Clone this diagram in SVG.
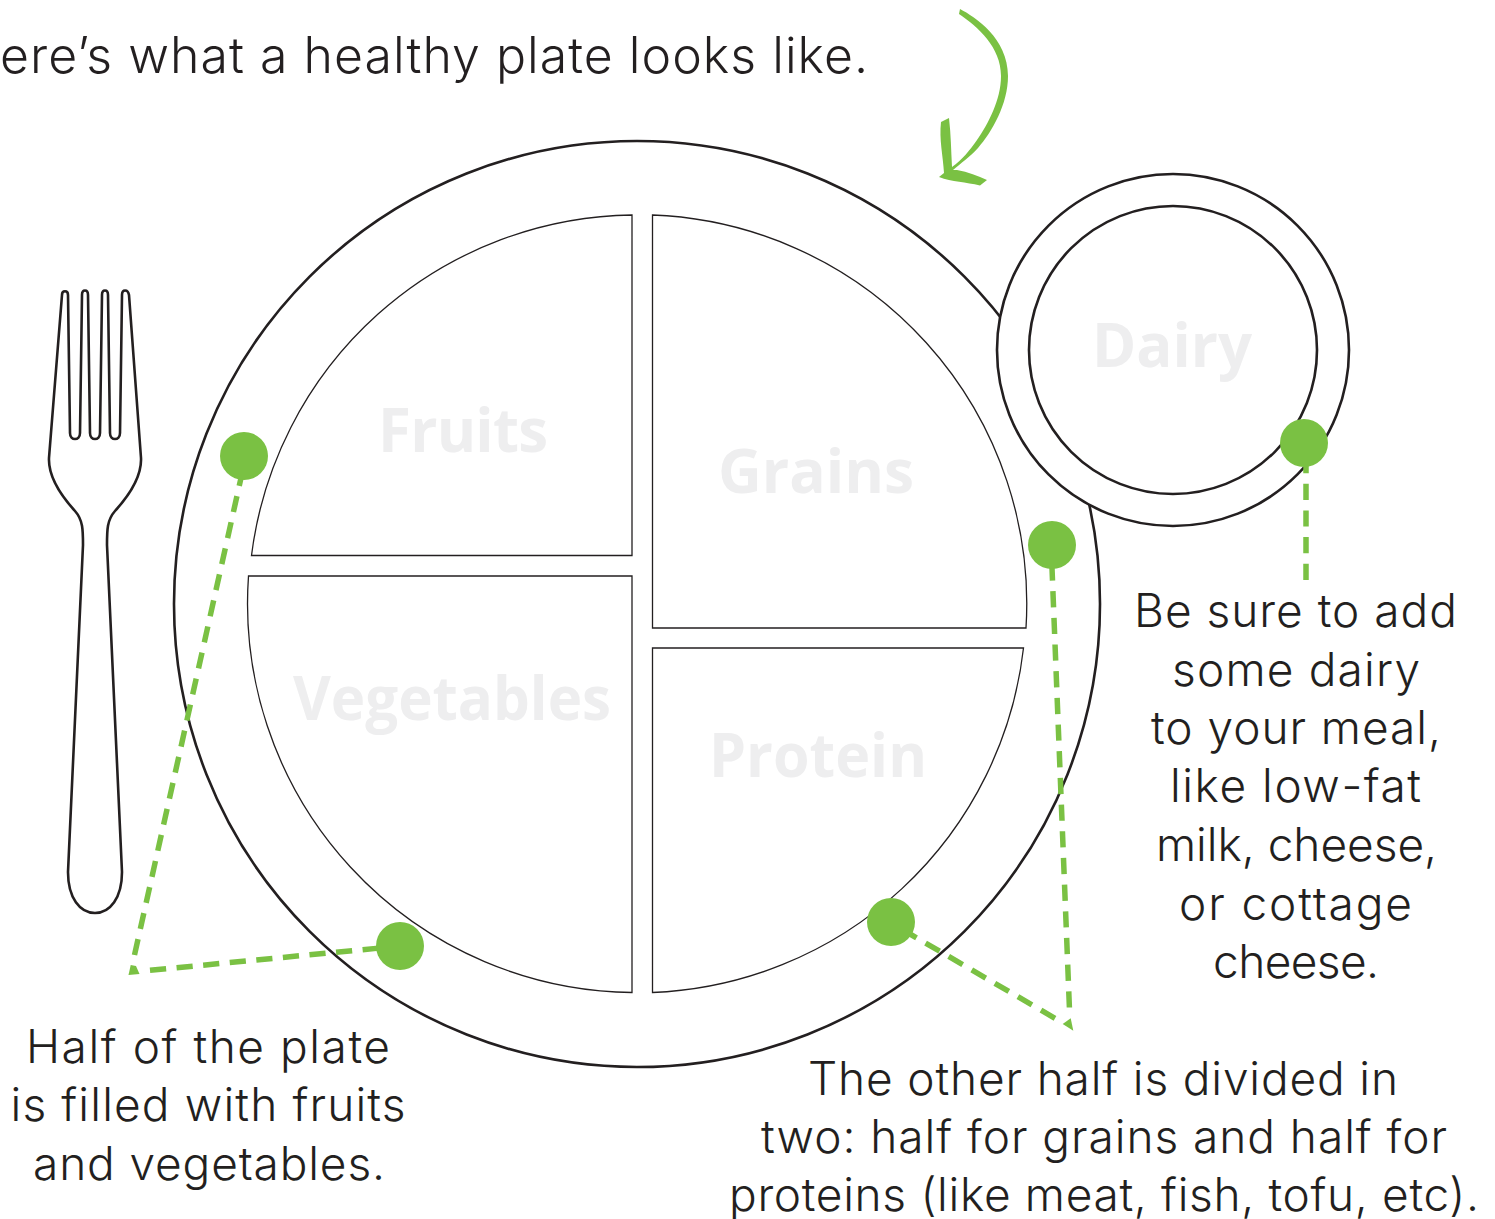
<svg xmlns="http://www.w3.org/2000/svg" width="1495" height="1219" viewBox="0 0 1495 1219">
<style>
.ln{fill:none;stroke:#231f20;stroke-width:2.6}
.q{fill:#fff;stroke:#231f20;stroke-width:1.3}
.lab{font-family:"Open Sans","Noto Sans",sans-serif;font-weight:700;font-size:60px;fill:#eeeeef;text-anchor:middle}
.t{font-family:Inter,"Noto Sans",sans-serif;font-weight:300;font-size:46px;fill:#231f20;text-anchor:middle}
.dash{fill:none;stroke:#7ac143;stroke-width:5.5;stroke-dasharray:16.200 10.500}
.dot{fill:#7ac143}
.g{fill:#7ac143}
</style>
<rect width="1495" height="1219" fill="#fff"/>
<text id="title" class="t" x="434" y="73" textLength="868" style="font-size:50px">ere’s what a healthy plate looks like.</text>
<g id="arrow"><path class="g" d="M960 9C975 17 1008 38 1008 76C1008 104 992 132 978 148C970 157 961 163 953 170L957 170C968 172 978 176 987 180L980 185.500C966 182 952 182 939 177L944 173C943 155 939 140 941 122L949 118C951 135 951 150 952 167C962 160 970 150 977 140C988 124 1001 100 1001 76C1001 47 978 27 959 14Z"/></g>
<g id="fork"><path class="ln" d="M62 295C62 290 68 290 68 295L70 433C70 441 80 441 80 433L82 295C82 289 88 289 88 295L90 433C90 441 100 441 100 433L102 295C102 289 108 289 108 295L110 433C110 441 120 441 120 433L122 295C122 289 128 289 129 295L141 458C142 480 125 500 115 511C107 520 107 530 107 545L122 872C122 898 110 913 95 913C80 913 68 898 68 872L83 545C83 530 83 520 75 511C65 500 48 480 49 458Z"/></g>
<g id="plate"><circle class="ln" cx="637" cy="604" r="463"/></g>
<g id="fruits"><path class="q" d="M632 215V555.500H251.500A389 389 0 0 1 632 215Z"/><text class="lab" x="463" y="452" textLength="170">Fruits</text></g>
<g id="vegetables"><path class="q" d="M632 576V992.500A389 389 0 0 1 248.500 576Z"/><text class="lab" x="452" y="720" textLength="318" lengthAdjust="spacingAndGlyphs">Vegetables</text></g>
<g id="grains"><path class="q" d="M652.500 215A389 389 0 0 1 1026 628H652.500Z"/><text class="lab" x="816" y="493" textLength="196" lengthAdjust="spacingAndGlyphs">Grains</text></g>
<g id="protein"><path class="q" d="M652.500 648H1023.500A389 389 0 0 1 652.500 992.500Z"/><text class="lab" x="818" y="777" textLength="218" lengthAdjust="spacingAndGlyphs">Protein</text></g>
<g id="dairy"><circle cx="1173" cy="350" r="176" fill="#fff" stroke="#231f20" stroke-width="2.6"/><circle class="ln" cx="1173" cy="350" r="144"/><text class="lab" x="1172" y="367" textLength="160" lengthAdjust="spacingAndGlyphs">Dairy</text></g>
<g id="connectors">
<path class="dash" d="M134.500 955L241 478"/>
<path class="dash" d="M150 970.300L380 948"/>
<path class="g" d="M128.500 975L139.500 974L136 966L130.700 965Z"/>
<path class="dash" d="M1069.400 1007.500L1052 568"/>
<path class="dash" d="M1055 1018.300L910 934"/>
<path class="g" d="M1073.300 1030.700L1062.700 1024L1070.700 1018.300Z"/>
<path class="dash" d="M1306 580V466"/>
</g>
<g id="dots">
<circle class="dot" cx="244" cy="456" r="24"/><circle class="dot" cx="400" cy="946" r="24"/><circle class="dot" cx="1052" cy="545" r="24"/><circle class="dot" cx="891" cy="922" r="24"/><circle class="dot" cx="1304" cy="443" r="24"/>
</g>
<g id="caption-left"><text class="t" x="208" y="1063" textLength="364">Half of the plate</text><text class="t" x="208" y="1121" textLength="395">is filled with fruits</text><text class="t" x="209" y="1180" textLength="352">and vegetables.</text></g>
<g id="caption-bottom"><text class="t" x="1103" y="1095" textLength="590">The other half is divided in</text><text class="t" x="1104" y="1153" textLength="686">two: half for grains and half for</text><text class="t" x="1104" y="1211" textLength="750">proteins (like meat, fish, tofu, etc).</text></g>
<g id="caption-right"><text class="t" x="1295.500" y="627" textLength="323">Be sure to add</text><text class="t" x="1296" y="686" textLength="248">some dairy</text><text class="t" x="1296" y="744" textLength="290">to your meal,</text><text class="t" x="1295.500" y="802" textLength="251">like low-fat</text><text class="t" x="1296.500" y="861" textLength="281">milk, cheese,</text><text class="t" x="1295.500" y="920" textLength="233">or cottage</text><text class="t" x="1296" y="978" textLength="166">cheese.</text></g>
</svg>
